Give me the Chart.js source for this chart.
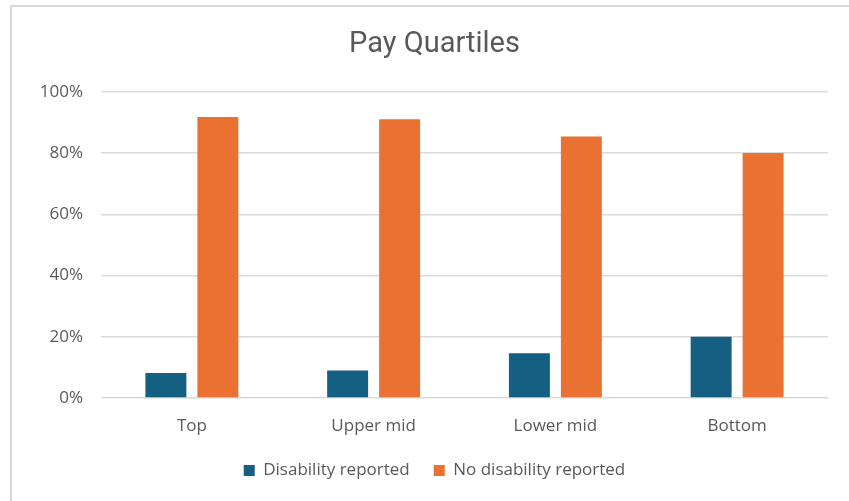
<!DOCTYPE html>
<html>
<head>
<meta charset="utf-8">
<script src="https://cdn.jsdelivr.net/npm/chart.js@4/dist/chart.umd.min.js"></script>
<style>
  html, body { margin: 0; padding: 0; background: #fff; overflow: hidden; }
  .frame { position: absolute; left: 10px; top: 5px; width: 900px; height: 600px;
           border: 2px solid #d9d9d9; box-sizing: border-box; }
  .wrap { position: absolute; left: 0; top: 0; width: 849px; height: 501px; }
</style>
</head>
<body>
<div class="frame"></div>
<div class="wrap"><canvas id="chart"></canvas></div>
<script>
  var quartiles = ['Top', 'Upper mid', 'Lower mid', 'Bottom'];
  var disability = [8.2, 9, 14.6, 20];
  var noDisability = [91.8, 91, 85.4, 80];
  var yTicks = [0, 20, 40, 60, 80, 100];

  var textColor = '#595959';
  var fontFamily = "'Open Sans', 'Liberation Sans', sans-serif";

  new Chart(document.getElementById('chart'), {
    type: 'bar',
    data: {
      labels: quartiles,
      datasets: [{
        label: 'Disability reported',
        data: disability,
        backgroundColor: '#156082'
      }, {
        label: 'No disability reported',
        data: noDisability,
        backgroundColor: '#E97132'
      }]
    },
    options: {
      responsive: true,
      maintainAspectRatio: false,
      animation: false,
      categoryPercentage: 0.572,
      barPercentage: 0.788,
      layout: { padding: { left: 41, right: 21, top: 0, bottom: 12 } },
      plugins: {
        tooltip: { enabled: false },
        title: {
          display: true,
          text: 'Pay Quartiles',
          color: textColor,
          font: { family: 'Roboto, sans-serif', size: 29, weight: 'normal' },
          padding: { top: 27, bottom: 30 }
        },
        legend: {
          position: 'bottom',
          labels: {
            color: textColor,
            font: { family: fontFamily, size: 17 },
            boxWidth: 11,
            boxHeight: 11,
            padding: 24
          }
        }
      },
      scales: {
        x: {
          grid: { display: false },
          border: { display: false },
          ticks: {
            color: textColor,
            font: { family: fontFamily, size: 17 },
            padding: 10
          },
          afterFit: function(scale) { scale.height = 40; }
        },
        y: {
          min: 0,
          max: 100,
          afterBuildTicks: function(scale) {
            scale.ticks = yTicks.map(function(v) { return { value: v }; });
          },
          grid: { color: '#d9d9d9', lineWidth: 1.5, drawTicks: false },
          border: { display: false },
          ticks: {
            color: textColor,
            font: { family: fontFamily, size: 17 },
            padding: 18,
            callback: function(v) { return v + '%'; }
          },
          afterFit: function(scale) { scale.width = 60; }
        }
      }
    }
  });
</script>
</body>
</html>
